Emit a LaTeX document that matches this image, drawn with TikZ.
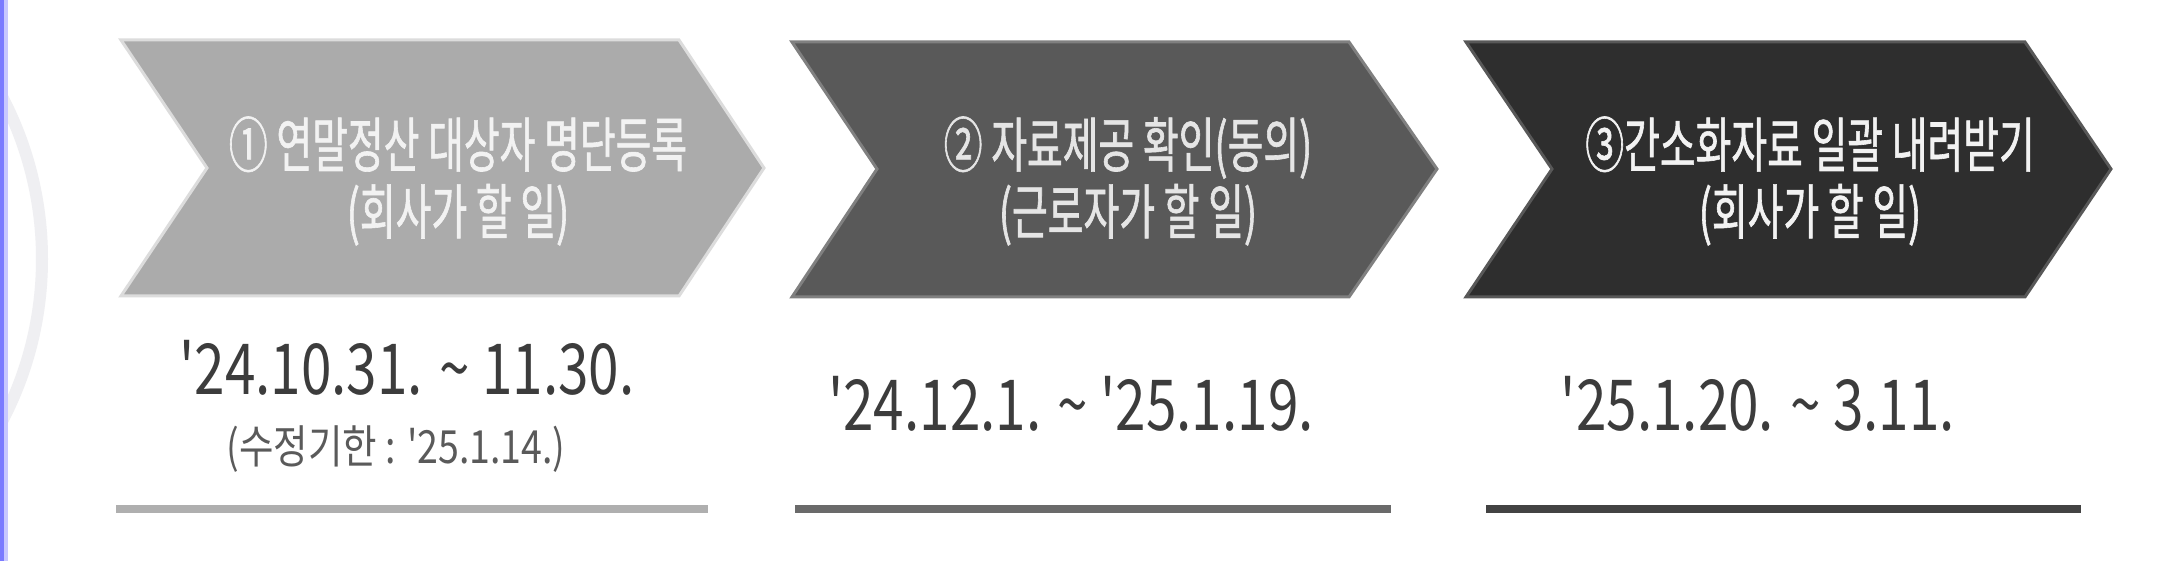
\documentclass[tikz,border=0pt]{standalone}
\usepackage{fontspec}
\newfontfamily\krfont[FakeStretch=0.65,FakeBold=1]{Noto Sans CJK KR}
\newfontfamily\datefont[FakeStretch=0.78]{Noto Sans CJK KR}
\newfontfamily\notefont[FakeStretch=0.82]{Noto Sans CJK KR}
\newcommand{\tl}{{\char"007E}}

\definecolor{stepone}{HTML}{ABABAB}
\definecolor{steponeedge}{HTML}{DCDCDC}
\definecolor{steptwo}{HTML}{595959}
\definecolor{steptwoedge}{HTML}{808080}
\definecolor{stepthree}{HTML}{2E2E2E}
\definecolor{stepthreeedge}{HTML}{585858}
\definecolor{datetext}{HTML}{3C3C3C}
\definecolor{notetext}{HTML}{5A5A5A}
\definecolor{sidebar}{HTML}{7B7BFF}
\definecolor{sidebarlight}{HTML}{C8C8FF}
\definecolor{ringgray}{HTML}{EFEFF2}

\begin{document}
\begin{tikzpicture}[x=0.01cm,y=-0.01cm,
	stepbox/.style={line width=0.03cm,line join=miter},
	title/.style={font=\krfont\fontsize{17}{19}\selectfont,align=center},
	date/.style={font=\datefont\fontsize{20}{24}\selectfont,text=datetext},
	rule/.style={line width=0.08cm}]
	\useasboundingbox (0,0) rectangle (2159,561);
	\fill[white] (0,0) rectangle (2159,561);

	% faint ring and side bar on the left
	\begin{scope}
		\clip (0,0) rectangle (2159,561);
		\draw[ringgray,line width=0.12cm] (-307,259) circle [radius=349];
	\end{scope}
	\fill[sidebar] (0,0) rectangle (4,561);
	\fill[sidebarlight] (4,0) rectangle (8,561);

	% steps
	\filldraw[stepbox,fill=stepone,draw=steponeedge] (121,40) -- (679,40) -- (764,168) -- (679,296) -- (121,296) -- (207,168) -- cycle;
	\filldraw[stepbox,fill=steptwo,draw=steptwoedge] (792,42) -- (1349,42) -- (1437,169) -- (1349,297) -- (792,297) -- (877,169) -- cycle;
	\filldraw[stepbox,fill=stepthree,draw=stepthreeedge] (1466,42) -- (2025,42) -- (2111,169) -- (2025,297) -- (1466,297) -- (1552,169) -- cycle;

	\node[title,text=white!95!black] (s1) at (458,181) {① 연말정산 대상자 명단등록\\(회사가 할 일)};
	\node[title,text=white!90!black] (s2) at (1128,181) {② 자료제공 확인(동의)\\(근로자가 할 일)};
	\node[title,text=white!95!black] (s3) at (1810,181) {③간소화자료 일괄 내려받기\\(회사가 할 일)};

	% dates
	\node[date] (d1) at (407,368) {'24.10.31. \tl{} 11.30.};
	\node[font=\notefont\fontsize{13}{15}\selectfont,text=notetext] (n1) at (396,449) {(수정기한 : '25.1.14.)};
	\node[date] (d2) at (1071,404) {'24.12.1. \tl{} '25.1.19.};
	\node[date] (d3) at (1758,404) {'25.1.20. \tl{} 3.11.};

	\draw[rule,color=stepone!95!white] (116,509) -- (708,509);
	\draw[rule,color=steptwo!90!white] (795,509) -- (1391,509);
	\draw[rule,color=stepthree!90!white] (1486,509) -- (2081,509);
\end{tikzpicture}
\end{document}
